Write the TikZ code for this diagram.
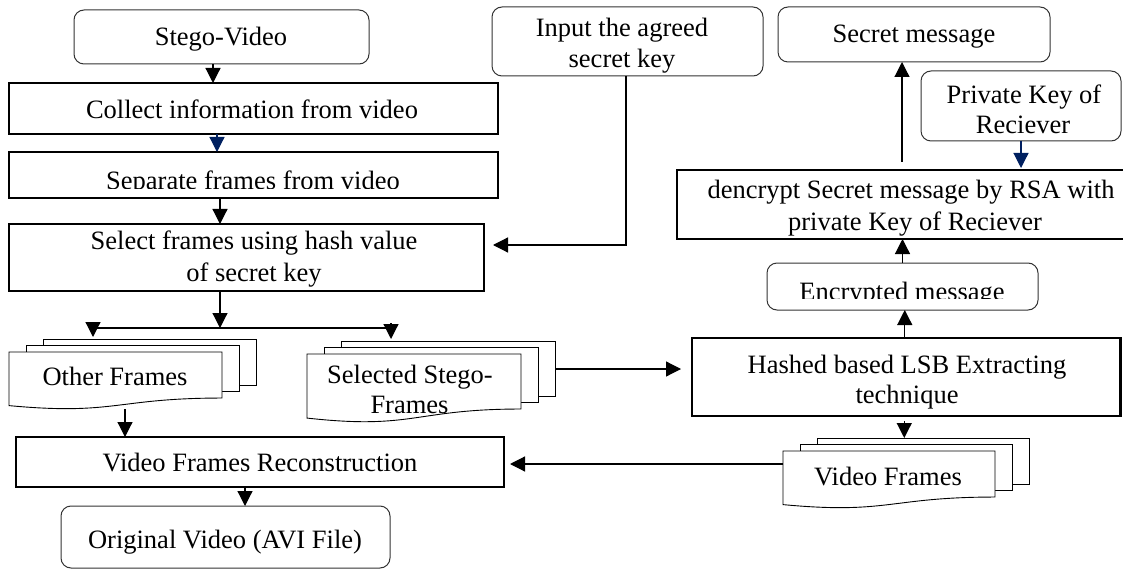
\documentclass[tikz,border=0pt]{standalone}
\usepackage{fontspec}
\setmainfont{Liberation Serif}
\usetikzlibrary{arrows.meta,calc}
\definecolor{navy}{RGB}{0,32,96}

% multi-document symbol: #1 name, #2 left, #3 top of front sheet, #4 width, #5 height
\newcommand\multidoc[5]{%
  \draw[docline] ({#2+34},{#3-6.5}) -- ({#2+34},{#3-13}) -- ({#2+#4+34},{#3-13})
    -- ({#2+#4+34},{#3+0.802*#5-13}) -- ({#2+#4+17},{#3+0.802*#5-13});
  \draw[docline] ({#2+17},#3) -- ({#2+17},{#3-6.5}) -- ({#2+#4+17},{#3-6.5})
    -- ({#2+#4+17},{#3+0.802*#5-6.5}) -- ({#2+#4},{#3+0.802*#5-6.5});
  \draw[docline,fill=white] (#2,#3) -- ({#2+#4},#3) -- ({#2+#4},{#3+0.802*#5})
    .. controls ({#2+#4/2},{#3+0.802*#5}) and ({#2+#4/2},{#3+1.107*#5}) .. (#2,{#3+0.934*#5}) -- cycle;
  \node[inner sep=0pt,outer sep=0pt,minimum width=#4 pt,minimum height=#5 pt] (#1) at ({#2+#4/2},{#3+#5/2}) {};
  \coordinate (#1-top) at ({#2+#4/2},{#3-13});
}

\begin{document}
\begin{tikzpicture}[x=1pt,y=-1pt,
  font=\fontsize{26.5}{31}\selectfont,
  thickbox/.style={draw=black,line width=2.2pt,inner sep=0pt,outer sep=0pt,fill=white},
  roundbox/.style={draw=black!80,line width=1pt,rounded corners=10pt,inner sep=0pt,outer sep=0pt,fill=white},
  docline/.style={draw=black,line width=0.9pt},
  txt/.style={anchor=base,inner sep=0pt},
  link/.style={draw=black,line width=1.2pt},
  arr/.style={link,-{Triangle[length=15pt,width=15pt]}},
  barr/.style={arr,draw=navy,fill=navy}]

\path[use as bounding box] (0,0) rectangle (1123,569);
\clip (0,0) rectangle (1123,569);

% ---- left column: preparing the stego video ----
\node[roundbox,minimum width=295pt,minimum height=54pt] (stego) at (221.5,37) {};
\node[txt] (t-stego) at (221,46) {Stego-Video};

\node[thickbox,minimum width=489pt,minimum height=51pt] (collect) at (253.5,108.5) {};
\node[txt] (t-collect) at (252,119) {Collect information from video};

\node[thickbox,minimum width=489pt,minimum height=46pt] (separate) at (253.5,175) {};
\begin{scope}
  \clip (0,150) rectangle (1123,188.5);
  \node[txt] (t-separate) at (253,189.5) {Separate frames from video};
\end{scope}

\node[thickbox,minimum width=475pt,minimum height=67pt] (select) at (246.5,257.5) {};
\node[txt] (t-select1) at (254,249.5) {Select frames using hash value};
\node[txt] (t-select2) at (254,281) {of secret key};

\node[roundbox,minimum width=271pt,minimum height=69pt] (input) at (627.5,41.5) {};
\node[txt] (t-input1) at (622,37) {Input the agreed};
\node[txt] (t-input2) at (622,68) {secret key};

% ---- frame stacks ----
\multidoc{other}{9}{352}{213}{57.4}
\node[txt] (t-other) at (115,385.7) {Other Frames};

\multidoc{selected}{307}{354}{214}{68.6}
\node[txt] (t-sel1) at (410,383) {Selected Stego-};
\node[txt] (t-sel2) at (409.5,413) {Frames};

\multidoc{vf}{783}{451}{212}{57.4}
\node[txt] (t-vf) at (888,485) {Video Frames};

\node[thickbox,minimum width=488pt,minimum height=50pt] (recon) at (260,462) {};
\node[txt] (t-recon) at (260,471.7) {Video Frames Reconstruction};

\node[roundbox,minimum width=329pt,minimum height=62pt] (orig) at (225.5,537) {};
\node[txt] (t-orig) at (225,548) {Original Video (AVI File)};

% ---- right column: extracting and decrypting ----
\node[roundbox,minimum width=272pt,minimum height=55pt] (secret) at (914,34.5) {};
\node[txt] (t-secret) at (914,43) {Secret message};

\node[roundbox,minimum width=200pt,minimum height=70pt] (private) at (1021,106) {};
\node[txt] (t-private1) at (1024,104) {Private Key of};
\node[txt] (t-private2) at (1023,134) {Reciever};

\node[thickbox,minimum width=473pt,minimum height=69pt] (decr) at (913.5,204.5) {};
\node[txt] (t-decr1) at (911,199) {dencrypt Secret message by RSA with};
\node[txt] (t-decr2) at (915,230) {private Key of Reciever};

\node[roundbox,minimum width=271pt,minimum height=47pt] (enc) at (902.5,286.5) {};
\begin{scope}
  \clip (700,260) rectangle (1100,298);
  \node[txt] (t-enc) at (902,300.5) {Encrypted message};
\end{scope}

\node[thickbox,minimum width=428.5pt,minimum height=78pt] (hash) at (906.25,377) {};
\node[txt] (t-hash1) at (907,373) {Hashed based LSB Extracting};
\node[txt] (t-hash2) at (907,403) {technique};

% ---- connectors ----
\draw[arr] ([xshift=-8.5pt]stego.south) -- ([xshift=-8.5pt]stego.south |- collect.north);
\draw[barr] ([xshift=-36.5pt]collect.south) -- ([xshift=-36.5pt]collect.south |- separate.north);
\draw[arr] ([xshift=-33.5pt]separate.south) -- ([xshift=-33.5pt]separate.south |- select.north);

\coordinate (keybend) at (626,245);
\draw[arr,shorten >=9pt] (input.south -| keybend) -- (keybend) -- (keybend -| select.east);

\coordinate (split) at (220,328);
\coordinate (sl) at (93,328);
\coordinate (sr) at (391,328);
\draw[arr] ([xshift=-26.5pt]select.south) -- (split);
\draw[link] (sl) -- (sr);
\draw[arr,shorten >=2pt] ([yshift=5pt]sl) -- (sl |- other-top);
\draw[arr,shorten >=2pt] ([yshift=5pt]sr) -- (sr |- selected-top);

\draw[arr] ([xshift=9.5pt]other.south) -- ([xshift=9.5pt]other.south |- recon.north);

\coordinate (selout) at (556,369);
\draw[arr,shorten >=11pt] (selout) -- (selout -| hash.west);

\draw[arr,shorten <=5pt] ([xshift=-2pt]hash.south) -- ([xshift=-2pt]hash.south |- vf-top);

\coordinate (vfout) at (783,464);
\draw[arr,shorten >=6pt] (vfout) -- (vfout -| recon.east);

\draw[arr] ([xshift=-15pt]recon.south) -- ([xshift=-15pt]recon.south |- orig.north);

\draw[arr] ([xshift=-1.5pt]hash.north) -- ([xshift=-1.5pt]hash.north |- enc.south);
\draw[arr] (enc.north) -- (enc.north |- decr.south);
\draw[arr,shorten <=8pt] ([xshift=-11.5pt]decr.north) -- ([xshift=-11.5pt]decr.north |- secret.south);
\draw[barr,shorten >=2pt] (private.south) -- (private.south |- decr.north);

\end{tikzpicture}
\end{document}
